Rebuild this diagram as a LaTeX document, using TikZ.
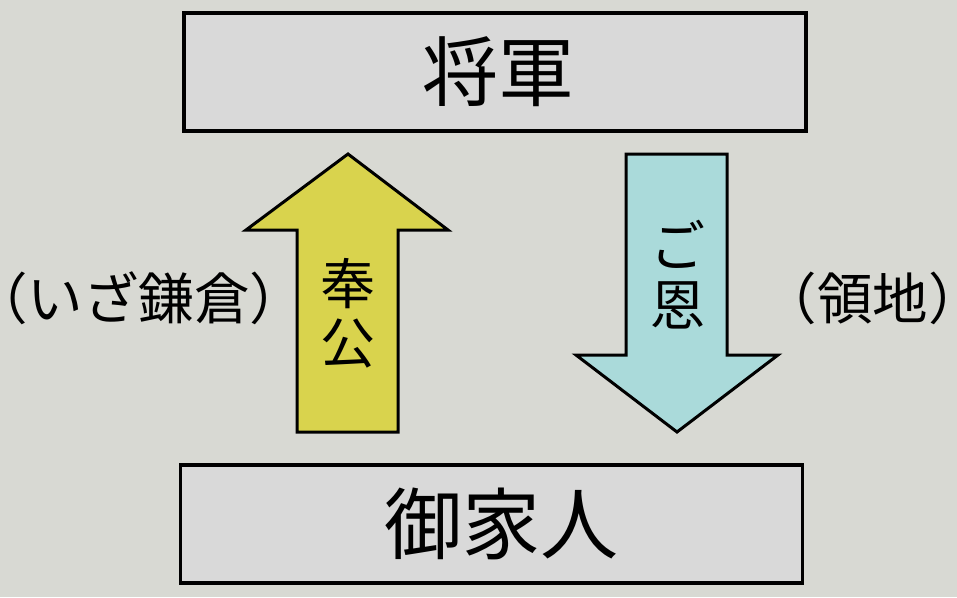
\documentclass[tikz,border=0pt]{standalone}
\usepackage{fontspec}
\setmainfont{Noto Sans CJK JP}
\definecolor{bgc}{RGB}{216,217,211}
\definecolor{boxc}{RGB}{217,217,217}
\definecolor{yel}{RGB}{217,211,77}
\definecolor{blu}{RGB}{170,218,218}
\tikzset{bx/.append style={draw,line width=3.5pt,fill=boxc,minimum width=622pt,minimum height=118pt,inner sep=0pt}}
\tikzset{ar/.append style={draw,line width=3pt,line join=miter}}
\tikzset{lb/.append style={inner sep=0pt,align=center,font=\fontsize{55.5}{55.5}\selectfont}}
\tikzset{vt/.append style={inner sep=0pt,align=center,font=\fontsize{55}{59}\selectfont}}

\begin{document}
\begin{tikzpicture}[x=1pt,y=-1pt]
                % background
                \useasboundingbox[fill=bgc] (0,0) rectangle (957,597);
                \node[bx,font=\fontsize{76}{76}\selectfont] (sg) at (495,72) {\kern6pt 将軍};
                \node[bx,font=\fontsize{78}{78}\selectfont] (gk) at (491.5,524) {\kern20pt 御家人};
                % arrows
                \draw[ar,fill=yel] (348,154) -- (448,230) -- (398,230) -- (398,432)
                    -- (297,432) -- (297,230) -- (246,230) -- cycle;
                \draw[ar,fill=blu] (626,154) -- (727,154) -- (727,355) -- (778,355)
                    -- (677,432) -- (576,355) -- (626,355) -- cycle;
                \node[vt] (hk) at (348,313) {奉\\公};
                \node[vt] (go) at (678,275) {ご\\恩};
                \node[lb] (ik) at (138.5,298) {\kern-.55em（いざ鎌倉）\kern-.55em};
                \node[lb] (ry) at (872.5,298) {\kern-.55em（領地）\kern-.55em};
            \end{tikzpicture}
\end{document}
